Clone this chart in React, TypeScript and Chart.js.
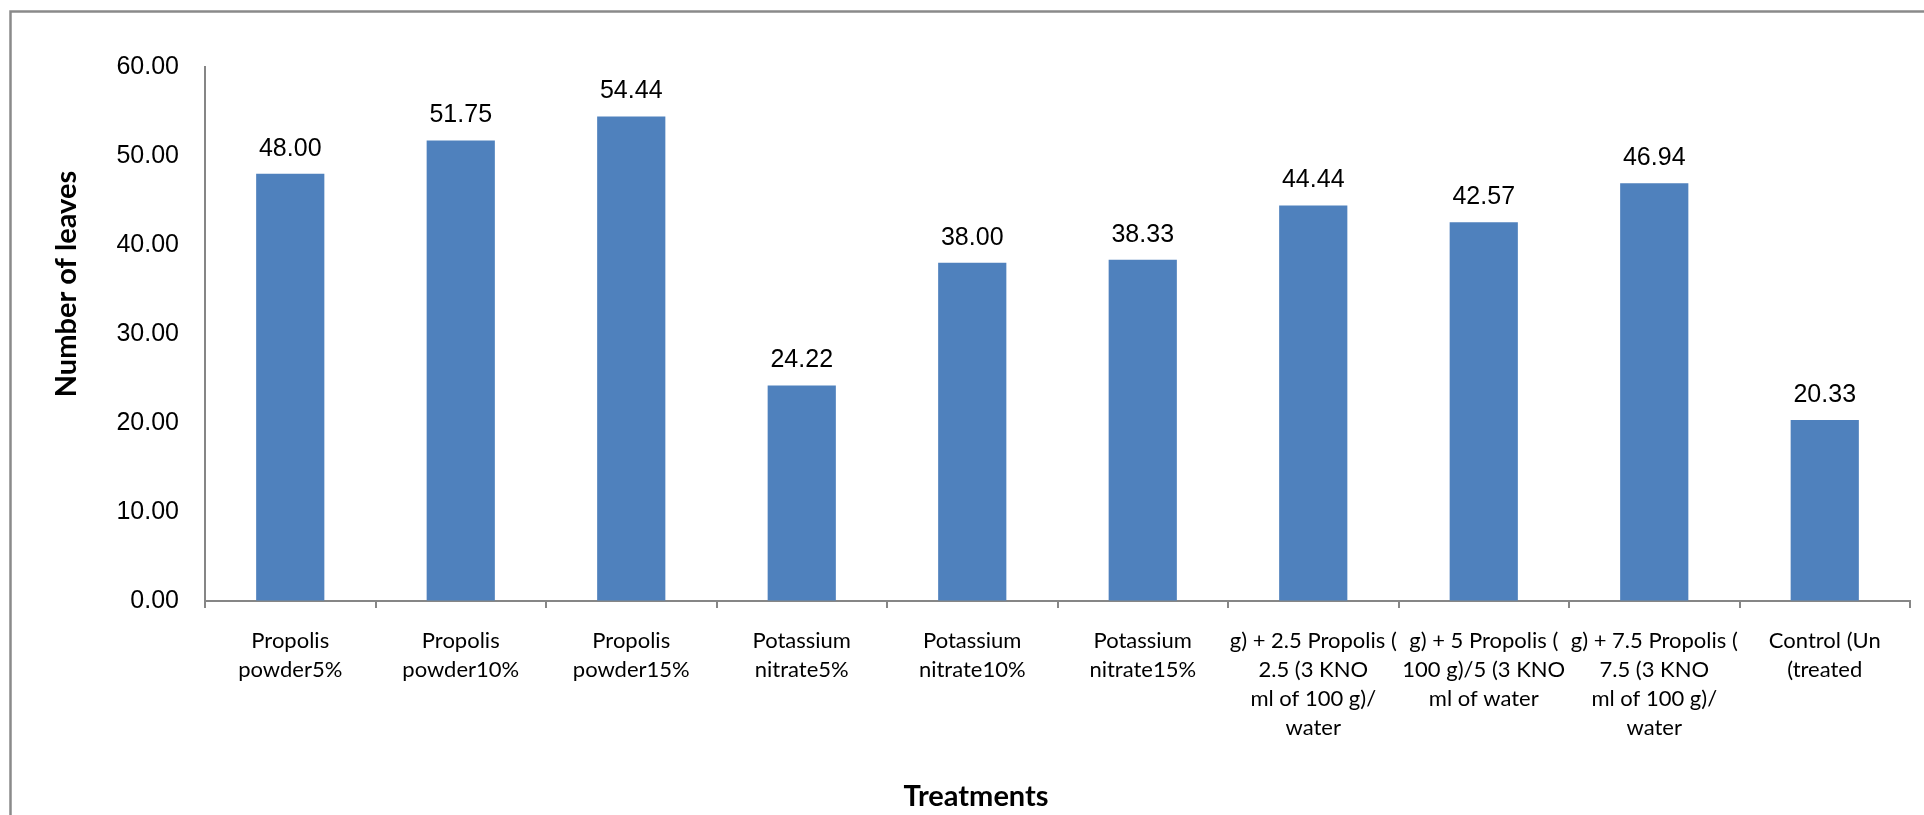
import React, { useEffect, useRef } from "react";
import { Chart, registerables } from "chart.js";

Chart.register(...registerables);

// Treatment names, split into the lines shown under each bar
const treatments: string[][] = [
  ["Propolis", "powder5%"],
  ["Propolis", "powder10%"],
  ["Propolis", "powder15%"],
  ["Potassium", "nitrate5%"],
  ["Potassium", "nitrate10%"],
  ["Potassium", "nitrate15%"],
  ["g) + 2.5 Propolis (", "2.5 (3 KNO", "ml of 100 g)/", "water"],
  ["g) + 5 Propolis (", "100 g)/5 (3 KNO", "ml of water"],
  ["g) + 7.5 Propolis (", "7.5 (3 KNO", "ml of 100 g)/", "water"],
  ["Control (Un", "(treated"],
];

// Mean number of leaves per treatment
const leafCounts: number[] = [48.0, 51.75, 54.44, 24.22, 38.0, 38.33, 44.44, 42.57, 46.94, 20.33];

// Value axis range and step
const yMin = 0;
const yMax = 60;
const yStep = 10;

const yAxisTitle = "Number of leaves";
const xAxisTitle = "Treatments";

const W = 1924;
const H = 815;

const AXIS_GREY = "#868686";
const BAR_BLUE = "#4F81BD";
const ARIAL = "'Liberation Sans', Arial, sans-serif";
const CALIBRI_LIKE = "Lato, 'Open Sans', sans-serif";

// Outer chart frame (only the top and left edges fall inside the canvas)
const framePlugin = {
  id: "frame",
  beforeDraw(chart: Chart) {
    const { ctx } = chart;
    ctx.save();
    ctx.fillStyle = "#ffffff";
    ctx.fillRect(0, 0, chart.width, chart.height);
    ctx.strokeStyle = "#8a8a8a";
    ctx.lineWidth = 2.5;
    ctx.beginPath();
    ctx.moveTo(10.5, chart.height + 5);
    ctx.lineTo(10.5, 11.5);
    ctx.lineTo(chart.width + 5, 11.5);
    ctx.stroke();
    ctx.restore();
  },
};

// Numeric value printed above each bar
const valueLabelPlugin = {
  id: "valueLabels",
  afterDatasetsDraw(chart: Chart) {
    const { ctx } = chart;
    const meta = chart.getDatasetMeta(0);
    const values = chart.data.datasets[0].data as number[];
    ctx.save();
    ctx.font = `25px ${ARIAL}`;
    ctx.fillStyle = "#000000";
    ctx.textAlign = "center";
    ctx.textBaseline = "alphabetic";
    meta.data.forEach((bar: any, i: number) => {
      ctx.fillText(values[i].toFixed(2), bar.x, bar.y - 18);
    });
    ctx.restore();
  },
};

// Axis titles
const axisTitlePlugin = {
  id: "axisTitles",
  afterDraw(chart: Chart) {
    const { ctx } = chart;
    ctx.save();
    ctx.fillStyle = "#000000";
    ctx.textAlign = "center";
    ctx.textBaseline = "middle";
    ctx.font = `bold 29px ${CALIBRI_LIKE}`;
    ctx.translate(67, 284);
    ctx.rotate(-Math.PI / 2);
    ctx.fillText(yAxisTitle, 0, 0);
    ctx.restore();

    ctx.save();
    ctx.fillStyle = "#000000";
    ctx.textAlign = "center";
    ctx.textBaseline = "alphabetic";
    ctx.font = `bold 29px ${CALIBRI_LIKE}`;
    ctx.fillText(xAxisTitle, 976, 806);
    ctx.restore();
  },
};

export default function App() {
  const canvasRef = useRef<HTMLCanvasElement | null>(null);

  useEffect(() => {
    const canvas = canvasRef.current;
    if (!canvas) return;
    const chart = new Chart(canvas, {
      type: "bar",
      data: {
        labels: treatments,
        datasets: [
          {
            data: leafCounts,
            backgroundColor: BAR_BLUE,
            borderWidth: 0,
            barPercentage: 0.4,
            categoryPercentage: 1,
          },
        ],
      },
      options: {
        responsive: false,
        animation: false,
        events: [],
        devicePixelRatio: 1,
        layout: { padding: { left: 0, right: 14, top: 67, bottom: 0 } },
        plugins: {
          legend: { display: false },
          tooltip: { enabled: false },
          title: { display: false },
        },
        scales: {
          x: {
            type: "category",
            offset: true,
            afterFit(scale: any) {
              scale.height = 214;
            },
            grid: {
              offset: true,
              drawOnChartArea: false,
              drawTicks: true,
              tickLength: 7,
              color: AXIS_GREY,
              lineWidth: 2,
            },
            border: { display: true, color: AXIS_GREY, width: 2 },
            ticks: {
              autoSkip: false,
              maxRotation: 0,
              minRotation: 0,
              padding: 19,
              color: "#000000",
              font: { family: CALIBRI_LIKE, size: 22, lineHeight: 28.8 / 22 },
            },
          },
          y: {
            type: "linear",
            min: yMin,
            max: yMax,
            afterFit(scale: any) {
              scale.width = 205;
            },
            grid: { drawOnChartArea: false, drawTicks: false },
            border: { display: true, color: AXIS_GREY, width: 2 },
            ticks: {
              stepSize: yStep,
              padding: 26,
              color: "#000000",
              font: { family: ARIAL, size: 25 },
              callback: (v: any) => Number(v).toFixed(2),
            },
          },
        },
      },
      plugins: [framePlugin, valueLabelPlugin, axisTitlePlugin],
    });
    return () => chart.destroy();
  }, []);

  return (
    <div style={{ position: "fixed", left: 0, top: 0, width: W, height: H, background: "#fff" }}>
      <canvas ref={canvasRef} width={W} height={H} style={{ width: W, height: H, display: "block" }} />
    </div>
  );
}
